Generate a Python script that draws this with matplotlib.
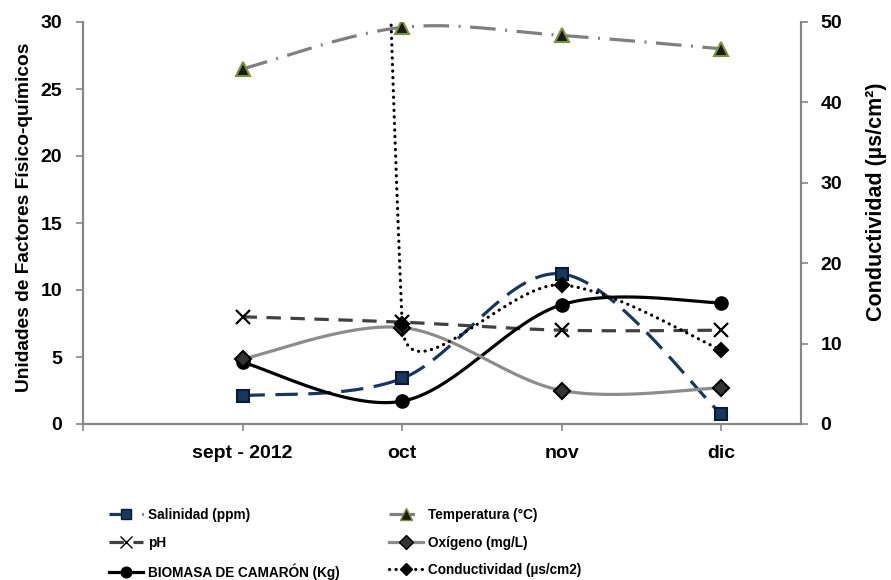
import numpy as np
import matplotlib
matplotlib.use("Agg")
import matplotlib.pyplot as plt
from matplotlib.lines import Line2D

plt.rcParams['font.family'] = ['Liberation Sans', 'DejaVu Sans']
plt.rcParams['font.weight'] = 'bold'

# ---- data ----
categories = ["sept - 2012", "oct", "nov", "dic"]
salinidad = [2.1, 3.4, 11.2, 0.75]
ph = [8.0, 7.6, 7.0, 7.0]
biomasa = [4.6, 1.7, 8.9, 9.05]
temperatura = [26.5, 29.6, 29.0, 28.0]
oxigeno = [4.85, 7.2, 2.5, 2.7]
conductividad = [950.0, 12.5, 17.3, 9.2]   # secondary axis (sept off-scale)

left_ticks = [0, 5, 10, 15, 20, 25, 30]
right_ticks = [0, 10, 20, 30, 40, 50]

W, H = 891, 580
fig = plt.figure(figsize=(W / 100, H / 100), dpi=100)
ax = fig.add_axes([83 / W, 1 - 424 / H, (801 - 83) / W, (424 - 22) / H])
ax2 = ax.twinx()

x = np.arange(len(categories))
ax.set_xlim(-1, 3.5)
ax.set_ylim(0, 30)
ax2.set_ylim(0, 50)


def excel_smooth(a, xs, ys, n=300):
    pts = a.transData.transform(np.column_stack([xs, ys]).astype(float))
    out = []
    t = np.linspace(0, 1, n)[:, None]
    for i in range(len(pts) - 1):
        p0, p3 = pts[i], pts[i + 1]
        prev = pts[i - 1] if i > 0 else pts[i]
        nxt = pts[i + 2] if i + 2 < len(pts) else pts[i + 1]
        chord = np.linalg.norm(p3 - p0)
        d1 = (p3 - prev) / 6.0
        d2 = (nxt - p0) / 6.0
        for d in (d1, d2):
            L = np.linalg.norm(d)
            if L > 0.5 * chord:
                d *= 0.5 * chord / L
        c1 = p0 + d1
        c2 = p3 - d2
        B = ((1 - t) ** 3) * p0 + 3 * ((1 - t) ** 2) * t * c1 + 3 * (1 - t) * t ** 2 * c2 + t ** 3 * p3
        out.append(B if i == 0 else B[1:])
    out = np.vstack(out)
    d = a.transData.inverted().transform(out)
    return d[:, 0], d[:, 1]


series = [
    dict(a=ax, y=salinidad, color='#17375E', ls=(0, (7, 3.3)), marker='s', ms=9, mfc='#17375E', mec='#0B1A2E', label='Salinidad (ppm)'),
    dict(a=ax, y=ph, color='#404040', ls=(0, (4.5, 3)), marker='x', ms=10, mfc='black', mec='black', label='pH'),
    dict(a=ax, y=biomasa, color='black', ls='-', marker='o', ms=9, mfc='black', mec='black', label='BIOMASA DE CAMARÓN (Kg)'),
    dict(a=ax, y=temperatura, color='#7F7F7F', ls=(0, (8, 3, 0.6, 3)), marker='^', ms=10, mfc='#1A1A1A', mec='#77933C', label='Temperatura (°C)'),
    dict(a=ax, y=oxigeno, color='#8C8C8C', ls='-', marker='D', ms=8, mfc='#333333', mec='black', label='Oxígeno (mg/L)'),
    dict(a=ax2, y=conductividad, color='black', ls=(0, (0.05, 2.0)), marker='D', ms=7, mfc='black', mec='black', label='Conductividad (µs/cm2)'),
]

handles = {}
for s in series:
    a = s['a']
    sx, sy = excel_smooth(a, x, s['y'])
    cap = 'round' if s['a'] is ax2 else 'butt'
    a.plot(sx, sy, color=s['color'], lw=2.3, linestyle=s['ls'],
           solid_capstyle='butt', dash_capstyle=cap)
    a.plot(x, s['y'], linestyle='none', marker=s['marker'], ms=s['ms'],
           mfc=s['mfc'], mec=s['mec'], mew=1.5 if s['marker'] != 'x' else 1.6)
    handles[s['label']] = Line2D([], [], color=s['color'], lw=2.3, linestyle=s['ls'],
                                 marker=s['marker'], ms=s['ms'] * 0.85, mfc=s['mfc'], mec=s['mec'],
                                 dash_capstyle=cap)

# axes styling
spine_c = '#868686'
ax.spines['top'].set_visible(False)
ax2.spines['top'].set_visible(False)
for a in (ax, ax2):
    for sp in ['left', 'right', 'bottom']:
        a.spines[sp].set_color(spine_c)
        a.spines[sp].set_linewidth(1.5)

ax.set_xticks([-1, 0, 1, 2, 3])
ax.set_xticklabels([''] + categories)
ax.set_yticks(left_ticks)
ax2.set_yticks(right_ticks)
ax.tick_params(axis='y', direction='out', length=5, width=1.2, color=spine_c,
               labelsize=14, pad=10)
ax.tick_params(axis='x', direction='out', length=5, width=1.2, color=spine_c,
               labelsize=14, pad=10)
ax2.tick_params(axis='y', direction='out', length=5, width=1.2, color=spine_c,
                labelsize=14, pad=9)
for lab in ax.get_xticklabels() + ax.get_yticklabels() + ax2.get_yticklabels():
    lab.set_fontweight('bold')

ax.set_ylabel('Unidades de Factores Físico-químicos', fontsize=13.8, fontweight='bold')
ax.yaxis.set_label_coords(-0.0696, 0.515)
ax2.set_ylabel('Conductividad (µs/cm²)', fontsize=15.5, fontweight='bold')
ax2.yaxis.set_label_coords(1.0905, 0.552)

order = ['Salinidad (ppm)', 'pH', 'BIOMASA DE CAMARÓN (Kg)',
         'Temperatura (°C)', 'Oxígeno (mg/L)', 'Conductividad (µs/cm2)']
leg = fig.legend([handles[k] for k in order], order, ncol=2, frameon=False,
                 loc='upper left', bbox_to_anchor=(109 / W, 1 - 508 / H),
                 prop={'weight': 'bold', 'size': 9.8},
                 handlelength=2.5, handletextpad=0.4, columnspacing=3.57,
                 labelspacing=1.0, borderaxespad=0, borderpad=0)

fig.savefig('out.png', dpi=100)
